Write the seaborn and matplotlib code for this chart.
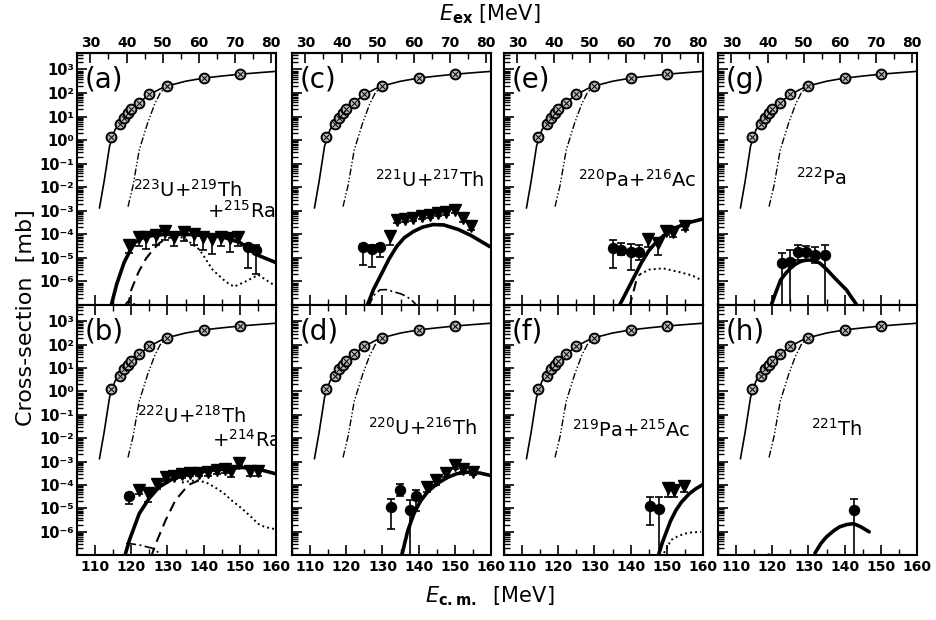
import math
import matplotlib
matplotlib.use("Agg")
import matplotlib.pyplot as plt
import seaborn as sns
from matplotlib.ticker import FixedLocator, FuncFormatter, NullFormatter, LogLocator

sns.set_theme(style="ticks")
plt.rcParams["font.family"] = ["DejaVu Sans"]
plt.rcParams["mathtext.default"] = "regular"
for key in ("text.color", "axes.labelcolor", "xtick.color", "ytick.color", "axes.edgecolor"):
    plt.rcParams[key] = "black"

# ---------------- capture / fusion (same in every panel) ----------------
cap_E = [114.5, 117, 118, 119, 120, 122, 125, 130, 140, 150]
cap_sig = [1.3, 4.7, 9, 14, 21, 39, 90, 200, 440, 620]

capfit_E = [111.2, 112.5, 114, 115.5, 117, 118.5, 120, 122, 125, 128, 130, 135, 140, 145, 150, 155, 160]
capfit_sig = [1.3e-3, 1.8e-2, 0.56, 2.8, 5.2, 11, 21, 38, 85, 150, 200, 316, 430, 525, 630, 725, 830]

fus_E = [119.1, 120.5, 122.2, 124.5, 126.5, 128, 129.5]
fus_sig = [1.5e-3, 1.2e-2, 0.38, 5.2, 35, 100, 180]

# offset between E_c.m. and excitation energy
Q_EX = 78.7

# ---------------- (a) 223U+219Th+215Ra ----------------
a_E = [119.5, 122.1, 124.2, 126.8, 129.3, 131.8, 134.5, 137.2, 139.7, 142.2, 144.9, 147.2, 149.5, 152.2, 154.5]
a_sig = [3.5e-5, 8e-5, 8e-5, 9e-5, 1.4e-4, 8e-5, 1.25e-4, 1e-4, 8e-5, 6.3e-5, 8e-5, 7e-5, 8e-5, 2.8e-5, 2.2e-5]
a_lo = [1.6e-5, 3.2e-5, 2.5e-5, 3.5e-5, 6e-5, 3.2e-5, 5e-5, 3.5e-5, 2.2e-5, 1.4e-5, 3.2e-5, 1.8e-5, 3.2e-5, 3.8e-6, 2e-6]
a_hi = [5e-5, 1.1e-4, 1.1e-4, 1.3e-4, 2e-4, 1.1e-4, 1.8e-4, 1.4e-4, 1.1e-4, 9e-5, 1.1e-4, 1e-4, 1.1e-4, 4e-5, 3.5e-5]
a_mk = ["v"] * 13 + ["o"] * 2
a_fit_E = [114.3, 116, 118, 119.5, 121, 123, 126, 130, 135, 140, 145, 150, 153, 155, 160]
a_fit = [7.9e-8, 7.9e-7, 6.3e-6, 1.8e-5, 4.5e-5, 7e-5, 9e-5, 1e-4, 1e-4, 9e-5, 8e-5, 4.5e-5, 2.2e-5, 1.3e-5, 6.3e-6]
a_dash_E = [119.0, 120, 122, 124.1, 126, 127.7, 129.5, 131.4, 133]
a_dash = [7.9e-8, 4.4e-7, 2.5e-6, 9.5e-6, 2.2e-5, 4.2e-5, 6.3e-5, 7.9e-5, 8.9e-5]
a_dot_E = [131, 132.7, 135, 138.9, 142.5, 146.1, 148.4, 151.5, 155.1, 158.7, 160]
a_dot = [7.9e-5, 8.9e-5, 6.3e-5, 2.2e-5, 3.1e-6, 9.8e-7, 6e-7, 9.8e-7, 1.9e-6, 8.3e-7, 6.3e-7]
a_dd_E = [117.8, 119, 120.5, 122]
a_dd = [7.9e-8, 1.4e-7, 1.2e-7, 8e-8]

# ---------------- (b) 222U+218Th+214Ra ----------------
b_E = [119.5, 122.2, 124.5, 127.2, 129.5, 131.8, 134.1, 136.3, 138.6, 141.3, 143.6, 145.9, 147.7, 149.9, 152.7, 154.9]
b_sig = [3.2e-5, 6.3e-5, 4.5e-5, 1.1e-4, 2.1e-4, 2.5e-4, 2.8e-4, 3.2e-4, 3.2e-4, 3.5e-4, 4.3e-4, 4.7e-4, 4e-4, 8.9e-4, 4e-4, 4e-4]
b_lo = [1.5e-5, 4e-5, 1.8e-5, 7e-5, 1.5e-4, 1.8e-4, 2e-4, 2.3e-4, 2.3e-4, 2.5e-4, 3e-4, 3.3e-4, 2.2e-4, 6.3e-4, 2.5e-4, 2.5e-4]
b_hi = [4.5e-5, 9e-5, 6.3e-5, 1.5e-4, 2.8e-4, 3.3e-4, 3.8e-4, 4.3e-4, 4.3e-4, 4.7e-4, 5.6e-4, 6.3e-4, 5.5e-4, 1.2e-3, 5.5e-4, 5.5e-4]
b_mk = ["o"] + ["v"] * 15
b_fit_E = [118.1, 119.5, 122.2, 124.9, 127.6, 132.1, 136.7, 141.3, 145.9, 150.4, 154.9, 159.9]
b_fit = [7.9e-8, 4.4e-7, 5.9e-6, 2.6e-5, 7.9e-5, 2.1e-4, 3e-4, 4.1e-4, 4.8e-4, 5.6e-4, 4.8e-4, 3e-4]
b_dash_E = [125.4, 127.2, 129.5, 132.2, 135.8, 138.6]
b_dash = [7.9e-8, 4.4e-7, 3.1e-6, 2.2e-5, 1e-4, 1.55e-4]
b_dot_E = [134, 136.5, 138.6, 141, 143.1, 145.5, 147.7, 150.5, 153.1, 155, 156.8, 159.5]
b_dot = [1.26e-4, 1.5e-4, 1.55e-4, 1.2e-4, 7.9e-5, 4.5e-5, 2.2e-5, 1e-5, 4.3e-6, 2.2e-6, 1.6e-6, 1.3e-6]
b_dd_E = [118.6, 122.2, 125.8, 129.5]
b_dd = [3.2e-7, 2.7e-7, 1.95e-7, 7.9e-8]

# ---------------- (c) 221U+217Th ----------------
c_E = [124.6, 127.0, 129.3, 132.1, 133.9, 136.2, 138.5, 140.8, 143.1, 145.4, 147.7, 150.0, 152.3, 154.6]
c_sig = [2.8e-5, 2.5e-5, 2.8e-5, 8.9e-5, 4.2e-4, 4.4e-4, 5e-4, 5.9e-4, 6.9e-4, 7.9e-4, 9.3e-4, 1.05e-3, 5e-4, 2.2e-4]
c_lo = [5e-6, 4.3e-6, 1.1e-5, 3.5e-5, 3e-4, 3.2e-4, 3.7e-4, 4.3e-4, 5e-4, 5.8e-4, 6.8e-4, 7.8e-4, 3.5e-4, 1.5e-4]
c_hi = [3.8e-5, 3.5e-5, 3.8e-5, 1.2e-4, 5.5e-4, 5.8e-4, 6.5e-4, 7.6e-4, 8.9e-4, 1e-3, 1.2e-3, 1.35e-3, 6.5e-4, 2.9e-4]
c_mk = ["o"] * 3 + ["v"] * 11
c_fit_E = [125.6, 127.5, 129.8, 131.8, 133.9, 136, 138.5, 141, 144, 147, 151, 154.5, 159.7]
c_fit = [7.9e-8, 4.5e-7, 2.2e-6, 8.9e-6, 3e-5, 7.1e-5, 1.3e-4, 2e-4, 2.6e-4, 2.5e-4, 1.6e-4, 8.9e-5, 3e-5]
c_dd_E = [126.1, 127.5, 129.3, 131, 133, 135, 136.7, 138.5, 139.9]
c_dd = [7.9e-8, 2.5e-7, 4.4e-7, 4.5e-7, 3.7e-7, 3e-7, 2.3e-7, 1.4e-7, 7.9e-8]

# ---------------- (d) 220U+216Th ----------------
d_E = [132.5, 134.8, 137.6, 139.4, 142.2, 144.9, 147.7, 150.0, 152.3, 155.1]
d_sig = [1.1e-5, 5.8e-5, 8.1e-6, 3.5e-5, 8.5e-5, 1.6e-4, 3.2e-4, 7.1e-4, 5e-4, 3.7e-4]
d_lo = [1.35e-6, 3.5e-5, 1e-8, 8e-6, 5e-5, 1e-4, 2.2e-4, 5e-4, 3.5e-4, 2.6e-4]
d_hi = [2.6e-5, 1.1e-4, 2.2e-5, 6e-5, 1.2e-4, 2.2e-4, 4.5e-4, 1e-3, 7e-4, 5e-4]
d_mk = ["o"] * 4 + ["v"] * 6
d_fit_E = [135.2, 137, 138.7, 140.5, 142.4, 145, 148, 150.5, 153.5, 157, 160]
d_fit = [7.9e-8, 1.1e-6, 5.9e-6, 2e-5, 4.9e-5, 1.1e-4, 2.1e-4, 3e-4, 3.5e-4, 3.2e-4, 2.5e-4]

# ---------------- (e) 220Pa+216Ac ----------------
e_E = [135.0, 137.3, 140.1, 142.4, 144.7, 147.5, 149.8, 151.7, 154.9]
e_sig = [2.6e-5, 2.2e-5, 1.8e-5, 1.8e-5, 6.3e-5, 4.5e-5, 1.4e-4, 1.2e-4, 2.2e-4]
e_lo = [3.6e-6, 1.3e-5, 3.1e-6, 8e-6, 3e-5, 1.3e-5, 9e-5, 8e-5, 1.6e-4]
e_hi = [5.8e-5, 4.5e-5, 4e-5, 3.5e-5, 1e-4, 6.5e-5, 1.9e-4, 1.7e-4, 3e-4]
e_mk = ["o"] * 4 + ["v"] * 5
e_fit_E = [136.8, 139, 141, 143, 145, 147.5, 150, 152.5, 155.5, 160]
e_fit = [8.9e-8, 4e-7, 1.6e-6, 6.3e-6, 2e-5, 5.6e-5, 1.1e-4, 1.9e-4, 3e-4, 4.5e-4]
e_dash_E = [139.6, 140.5, 141.5, 142.5]
e_dash = [7.9e-8, 2.5e-7, 1e-6, 2e-6]
e_dot_E = [142.5, 145.2, 148.9, 153.5, 157, 159.5]
e_dot = [2e-6, 3.2e-6, 3.6e-6, 2.5e-6, 1.8e-6, 1.15e-6]

# ---------------- (f) 219Pa+215Ac ----------------
f_E = [145.3, 147.9, 150.2, 152.1, 154.8]
f_sig = [1.3e-5, 9.5e-6, 7.1e-5, 6.3e-5, 8.9e-5]
f_lo = [1.9e-6, 1e-8, 3e-5, 3e-5, 5e-5]
f_hi = [3e-5, 3e-5, 1e-4, 9e-5, 1.3e-4]
f_mk = ["o", "o", "v", "v", "v"]
f_fit_E = [147.5, 148.7, 149.7, 151, 152.5, 154, 156.2, 158, 160]
f_fit = [7.9e-8, 3.2e-7, 8.3e-7, 2.8e-6, 8.1e-6, 1.8e-5, 4.2e-5, 6.8e-5, 1.05e-4]
f_dot_E = [148.5, 150, 151.2, 153, 155, 157, 159.5]
f_dot = [7.9e-8, 2e-7, 4.4e-7, 6.3e-7, 8.3e-7, 9.3e-7, 9.8e-7]

# ---------------- (g) 222Pa ----------------
g_E = [122.8, 124.8, 127.2, 129.4, 131.8, 134.5]
g_sig = [5.9e-6, 6.9e-6, 1.8e-5, 1.8e-5, 1.3e-5, 1.3e-5]
g_lo = [1e-8, 1e-8, 8e-6, 8e-6, 6e-6, 1e-8]
g_hi = [1.6e-5, 2.2e-5, 3.5e-5, 3.3e-5, 3e-5, 3.5e-5]
g_mk = ["o"] * 6
g_fit_E = [119.6, 121, 122.3, 123.7, 125, 126.4, 127.7, 129, 130.5, 132, 133.2, 135, 136.9, 138.7, 140.5, 142, 143.6]
g_fit = [8.9e-8, 3.5e-7, 1.15e-6, 2.2e-6, 3.6e-6, 5.4e-6, 6.9e-6, 7.9e-6, 8.1e-6, 7.4e-6, 5.9e-6, 3.3e-6, 1.6e-6, 8.3e-7, 4.4e-7, 2e-7, 8.9e-8]

# ---------------- (h) 221Th ----------------
h_E = [142.5]
h_sig = [8.7e-6]
h_lo = [1e-8]
h_hi = [2.6e-5]
h_mk = ["o"]
h_fit_E = [131.8, 133.5, 135, 137, 138.6, 140.5, 142.5, 144.5, 146.8]
h_fit = [1.2e-7, 3.2e-7, 6e-7, 1.1e-6, 1.6e-6, 2e-6, 2.2e-6, 1.6e-6, 9.8e-7]
h_dd_E = [117.6, 119, 120.4]
h_dd = [7.9e-8, 1.1e-7, 8e-8]

# ---------------- panel layout ----------------
W, H = 937, 620
col_left = [77, 292, 504, 718]
col_w = 199
row_top = [53, 305]
row_h = [252, 250]

DASH = (5, 3)
DOT = (1, 1.6)
DASHDOT = (6, 2, 1.2, 2)
FUSDASH = (5, 1.5, 1, 1.5, 1, 1.5)

panels = [
    dict(tag="(a)", row=0, col=0, E=a_E, s=a_sig, lo=a_lo, hi=a_hi, mk=a_mk,
         fit=(a_fit_E, a_fit), extra=[(a_dash_E, a_dash, DASH, 1.5), (a_dot_E, a_dot, DOT, 1.4), (a_dd_E, a_dd, DASHDOT, 1.2)],
         labels=[(r"$^{223}$U+$^{219}$Th", 0.28, 0.43), (r"+$^{215}$Ra", 0.655, 0.345)]),
    dict(tag="(b)", row=1, col=0, E=b_E, s=b_sig, lo=b_lo, hi=b_hi, mk=b_mk,
         fit=(b_fit_E, b_fit), extra=[(b_dash_E, b_dash, DASH, 1.5), (b_dot_E, b_dot, DOT, 1.4), (b_dd_E, b_dd, DASHDOT, 1.2)],
         labels=[(r"$^{222}$U+$^{218}$Th", 0.30, 0.527), (r"+$^{214}$Ra", 0.68, 0.433)]),
    dict(tag="(c)", row=0, col=1, E=c_E, s=c_sig, lo=c_lo, hi=c_hi, mk=c_mk,
         fit=(c_fit_E, c_fit), extra=[(c_dd_E, c_dd, DASHDOT, 1.2)],
         labels=[(r"$^{221}$U+$^{217}$Th", 0.415, 0.47)]),
    dict(tag="(d)", row=1, col=1, E=d_E, s=d_sig, lo=d_lo, hi=d_hi, mk=d_mk,
         fit=(d_fit_E, d_fit), extra=[],
         labels=[(r"$^{220}$U+$^{216}$Th", 0.384, 0.48)]),
    dict(tag="(e)", row=0, col=2, E=e_E, s=e_sig, lo=e_lo, hi=e_hi, mk=e_mk,
         fit=(e_fit_E, e_fit), extra=[(e_dash_E, e_dash, DASH, 1.5), (e_dot_E, e_dot, DOT, 1.4)],
         labels=[(r"$^{220}$Pa+$^{216}$Ac", 0.373, 0.47)]),
    dict(tag="(f)", row=1, col=2, E=f_E, s=f_sig, lo=f_lo, hi=f_hi, mk=f_mk,
         fit=(f_fit_E, f_fit), extra=[(f_dot_E, f_dot, DOT, 1.4)],
         labels=[(r"$^{219}$Pa+$^{215}$Ac", 0.34, 0.473)]),
    dict(tag="(g)", row=0, col=3, E=g_E, s=g_sig, lo=g_lo, hi=g_hi, mk=g_mk,
         fit=(g_fit_E, g_fit), extra=[],
         labels=[(r"$^{222}$Pa", 0.39, 0.476)]),
    dict(tag="(h)", row=1, col=3, E=h_E, s=h_sig, lo=h_lo, hi=h_hi, mk=h_mk,
         fit=(h_fit_E, h_fit), extra=[(h_dd_E, h_dd, DASHDOT, 1.2)],
         labels=[(r"$^{221}$Th", 0.466, 0.476)]),
]

fig = plt.figure(figsize=(W / 100, H / 100), dpi=100)
fig.patch.set_facecolor("white")

tick_font = dict(fontsize=10, fontweight="bold")

SUP = str.maketrans("-0123456789", "\u207b\u2070\u00b9\u00b2\u00b3\u2074\u2075\u2076\u2077\u2078\u2079")


def yfmt(v, pos):
    if v <= 0:
        return ""
    e = int(round(math.log10(v)))
    return "10" + str(e).translate(SUP)


for p in panels:
    r, c = p["row"], p["col"]
    left = col_left[c] / W
    bottom = 1 - (row_top[r] + row_h[r]) / H
    ax = fig.add_axes([left, bottom, col_w / W, row_h[r] / H])
    ax.set_facecolor("white")
    ax.set_yscale("log")
    ax.set_xlim(105, 160)
    ax.set_ylim(1e-7, 5e3)

    # capture cross-section: fit, fusion, data
    sns.lineplot(x=capfit_E, y=capfit_sig, ax=ax, color="black", linewidth=1.2,
                 estimator=None, sort=False)
    sns.lineplot(x=fus_E, y=fus_sig, ax=ax, color="black", linewidth=1.0,
                 estimator=None, sort=False, dashes=FUSDASH)
    sns.scatterplot(x=cap_E, y=cap_sig, ax=ax, marker="o", s=50, color="#b8b8b8",
                    edgecolor="black", linewidth=1.4, zorder=5)
    sns.scatterplot(x=cap_E, y=cap_sig, ax=ax, marker="x", s=12, color="black",
                    linewidth=0.7, zorder=6)

    # evaporation residue: calculated curves
    fx, fy = p["fit"]
    sns.lineplot(x=fx, y=fy, ax=ax, color="black", linewidth=2.6,
                 estimator=None, sort=False)
    for ex, ey, dsh, lw in p["extra"]:
        sns.lineplot(x=ex, y=ey, ax=ax, color="black", linewidth=lw,
                     estimator=None, sort=False, dashes=dsh)

    # evaporation residue: measured points
    for mk in ("o", "v"):
        idx = [i for i, m in enumerate(p["mk"]) if m == mk]
        if not idx:
            continue
        xs = [p["E"][i] for i in idx]
        ys = [p["s"][i] for i in idx]
        dn = [p["s"][i] - p["lo"][i] for i in idx]
        up = [p["hi"][i] - p["s"][i] for i in idx]
        ax.errorbar(xs, ys, yerr=[dn, up], fmt=mk, color="black",
                    ms=7.2 if mk == "o" else 8.4, capsize=3.2, capthick=1.2,
                    elinewidth=1.2, zorder=7)

    # ticks
    ax.xaxis.set_major_locator(FixedLocator([110, 120, 130, 140, 150, 160]))
    ax.xaxis.set_minor_locator(FixedLocator([105, 115, 125, 135, 145, 155]))
    ax.yaxis.set_major_locator(FixedLocator([10.0 ** k for k in range(-6, 4)]))
    ax.yaxis.set_minor_locator(LogLocator(base=10, subs=(2, 3, 4, 5, 6, 7, 8, 9), numticks=30))
    ax.yaxis.set_minor_formatter(NullFormatter())
    ax.tick_params(axis="both", which="major", direction="in", length=7, width=1.2,
                   colors="black", labelsize=10)
    ax.tick_params(axis="both", which="minor", direction="in", length=4, width=1.0,
                   colors="black")
    ax.tick_params(axis="x", which="both", top=(r == 1), bottom=True)
    ax.tick_params(axis="y", which="both", left=True, right=False, pad=2)
    for sp in ax.spines.values():
        sp.set_linewidth(1.5)
        sp.set_color("black")

    if r == 1:
        ax.set_xticklabels(["110", "120", "130", "140", "150", "160"], **tick_font)
    else:
        ax.set_xticklabels([])
        sec = ax.secondary_xaxis("top", functions=(lambda e: e - Q_EX, lambda x: x + Q_EX))
        sec.xaxis.set_major_locator(FixedLocator([30, 40, 50, 60, 70, 80]))
        sec.xaxis.set_minor_locator(FixedLocator([35, 45, 55, 65, 75]))
        sec.tick_params(which="major", direction="in", length=7, width=1.2, labelsize=10,
                        pad=2, colors="black")
        sec.tick_params(which="minor", direction="in", length=4, width=1.0, colors="black")
        sec.set_xticklabels(["30", "40", "50", "60", "70", "80"], **tick_font)
        sec.spines["top"].set_linewidth(1.5)

    if c == 0:
        ax.yaxis.set_major_formatter(FuncFormatter(yfmt))
        for t in ax.get_yticklabels():
            t.set_fontsize(10.5)
            t.set_fontweight("bold")
    else:
        ax.set_yticklabels([])

    ax.set_xlabel("")
    ax.set_ylabel("")

    ax.text(0.04, 0.95, p["tag"], transform=ax.transAxes, fontsize=20,
            ha="left", va="top", zorder=10)
    for txt, tx, ty in p["labels"]:
        ax.text(tx, ty, txt, transform=ax.transAxes, fontsize=14,
                ha="left", va="baseline", zorder=10, clip_on=True)

fig.text(490 / W, 1 - 14 / H, r"$\mathit{E}_{\mathbf{ex}}$ [MeV]", fontsize=15,
         ha="center", va="center")
fig.text(490 / W, 1 - 596 / H, r"$\mathit{E}_{\mathbf{c.m.}}$  [MeV]", fontsize=15,
         ha="center", va="center")
fig.text(26 / W, 1 - 318 / H, "Cross-section  [mb]", fontsize=16, rotation=90,
         ha="center", va="center")

fig.savefig("out.png", dpi=100, facecolor="white")
